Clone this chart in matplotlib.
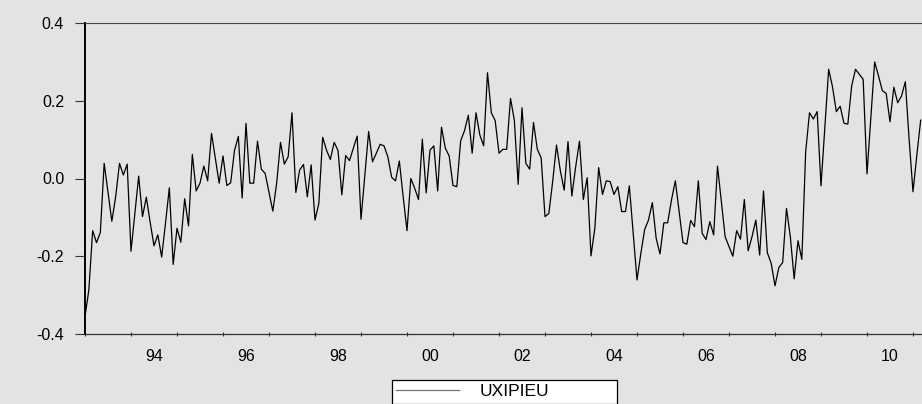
import matplotlib
matplotlib.use("Agg")
import matplotlib.pyplot as plt
import numpy as np

# monthly series, Jan 1993 .. Mar 2011
uxipieu_93_96 = [-0.355, -0.287, -0.134, -0.165, -0.139, 0.039, -0.036, -0.110, -0.047, 0.039,
                 0.009, 0.037, -0.187, -0.090, 0.006, -0.098, -0.048, -0.113, -0.173, -0.145,
                 -0.202, -0.115, -0.024, -0.221, -0.128, -0.164, -0.052, -0.122, 0.062, -0.032,
                 -0.012, 0.032, -0.006, 0.116, 0.052, -0.012, 0.058, -0.018, -0.011, 0.072,
                 0.108, -0.050, 0.142, -0.012]
uxipieu_96_00 = [-0.012, 0.096, 0.024, 0.013, -0.036, -0.084, -0.012, 0.093, 0.037, 0.056,
                 0.169, -0.036, 0.022, 0.036, -0.047, 0.035, -0.107, -0.064, 0.106, 0.073,
                 0.049, 0.093, 0.072, -0.042, 0.059, 0.046, 0.078, 0.109, -0.105, 0.008,
                 0.121, 0.043, 0.065, 0.088, 0.084, 0.056, 0.003, -0.006, 0.045, -0.047,
                 -0.134, 0.000]
uxipieu_00_03 = [-0.025, -0.054, 0.101, -0.037, 0.073, 0.084, -0.032, 0.132, 0.078, 0.058,
                 -0.018, -0.021, 0.097, 0.123, 0.163, 0.065, 0.169, 0.112, 0.084, 0.272,
                 0.169, 0.149, 0.065, 0.075, 0.075, 0.206, 0.150, -0.015, 0.182, 0.039,
                 0.024, 0.144, 0.075, 0.053, -0.098, -0.090, -0.008, 0.086, 0.020, -0.030,
                 0.095]
uxipieu_03_07 = [-0.045, 0.030, 0.096, -0.054, 0.002, -0.199, -0.128, 0.028, -0.041, -0.006,
                 -0.008, -0.041, -0.021, -0.085, -0.085, -0.019, -0.141, -0.261, -0.193, -0.131,
                 -0.107, -0.062, -0.154, -0.194, -0.114, -0.114, -0.055, -0.006, -0.085, -0.165,
                 -0.169, -0.108, -0.124, -0.006, -0.141, -0.157, -0.111, -0.145, 0.032, -0.060,
                 -0.150, -0.175]
uxipieu_07_11 = [-0.200, -0.134, -0.156, -0.054, -0.186, -0.150, -0.107, -0.197, -0.032, -0.191,
                 -0.218, -0.276, -0.229, -0.216, -0.077, -0.150, -0.258, -0.160, -0.208, 0.069,
                 0.169, 0.153, 0.172, -0.019, 0.133, 0.281, 0.236, 0.172, 0.186, 0.142,
                 0.140, 0.238, 0.281, 0.268, 0.255, 0.012, 0.155, 0.300, 0.264, 0.226,
                 0.219, 0.146, 0.235, 0.195, 0.212, 0.249, 0.099, -0.034, 0.060, 0.150]

start_year = 1993
label_years = [1994, 1996, 1998, 2000, 2002, 2004, 2006, 2008, 2010]
y_ticks = [-0.4, -0.2, 0.0, 0.2, 0.4]

values = np.array(uxipieu_93_96 + uxipieu_96_00 + uxipieu_00_03 + uxipieu_03_07 + uxipieu_07_11)
t = start_year + np.arange(len(values)) / 12.0

bg = "#e3e3e3"
plt.rcParams["font.family"] = ["Liberation Sans", "DejaVu Sans"]

fig = plt.figure(figsize=(9.22, 4.04), dpi=100, facecolor=bg)
ax = fig.add_axes([85 / 922, 70 / 404, 837 / 922, 311 / 404])
ax.set_facecolor(bg)

ax.plot(t, values, color="black", lw=0.9, label="UXIPIEU")

ax.set_xlim(start_year, start_year + 837 / 46)
ax.set_ylim(-0.4, 0.4)

# year ticks without labels, labels centred in the middle of the year
ax.set_xticks(np.arange(start_year, 2012))
ax.set_xticklabels([])
ax.set_xticks([y + 0.5 for y in label_years], minor=True)
ax.set_xticklabels(["%02d" % (y % 100) for y in label_years], minor=True, fontsize=11.5)
ax.tick_params(axis="x", which="major", length=3, width=0.8, direction="inout", color="#333333")
ax.tick_params(axis="x", which="minor", length=0, pad=11)

ax.set_yticks(y_ticks)
ax.set_yticklabels(["%.1f" % v for v in y_ticks], fontsize=11.5)
ax.tick_params(axis="y", length=7, width=0.8, pad=8, color="#333333")

ax.spines["right"].set_visible(False)
ax.spines["left"].set_linewidth(1.4)
ax.spines["bottom"].set_linewidth(0.9)
ax.spines["bottom"].set_color("#333333")
ax.spines["top"].set_linewidth(0.8)
ax.spines["top"].set_color("#444444")

leg = ax.legend(loc="upper left", bbox_to_anchor=(392 / 922, 24 / 404 - 0.1, 225 / 922, 0.1),
                bbox_transform=fig.transFigure, mode="expand", fontsize=12.5,
                frameon=True, fancybox=False, framealpha=1, edgecolor="black",
                handlelength=3.6, handletextpad=1.2, borderpad=0.25, borderaxespad=0)
leg.get_frame().set_linewidth(0.9)
leg.get_lines()[0].set_color("#777777")
leg.get_lines()[0].set_linewidth(0.9)

fig.savefig("out.png", dpi=100, facecolor=bg)
